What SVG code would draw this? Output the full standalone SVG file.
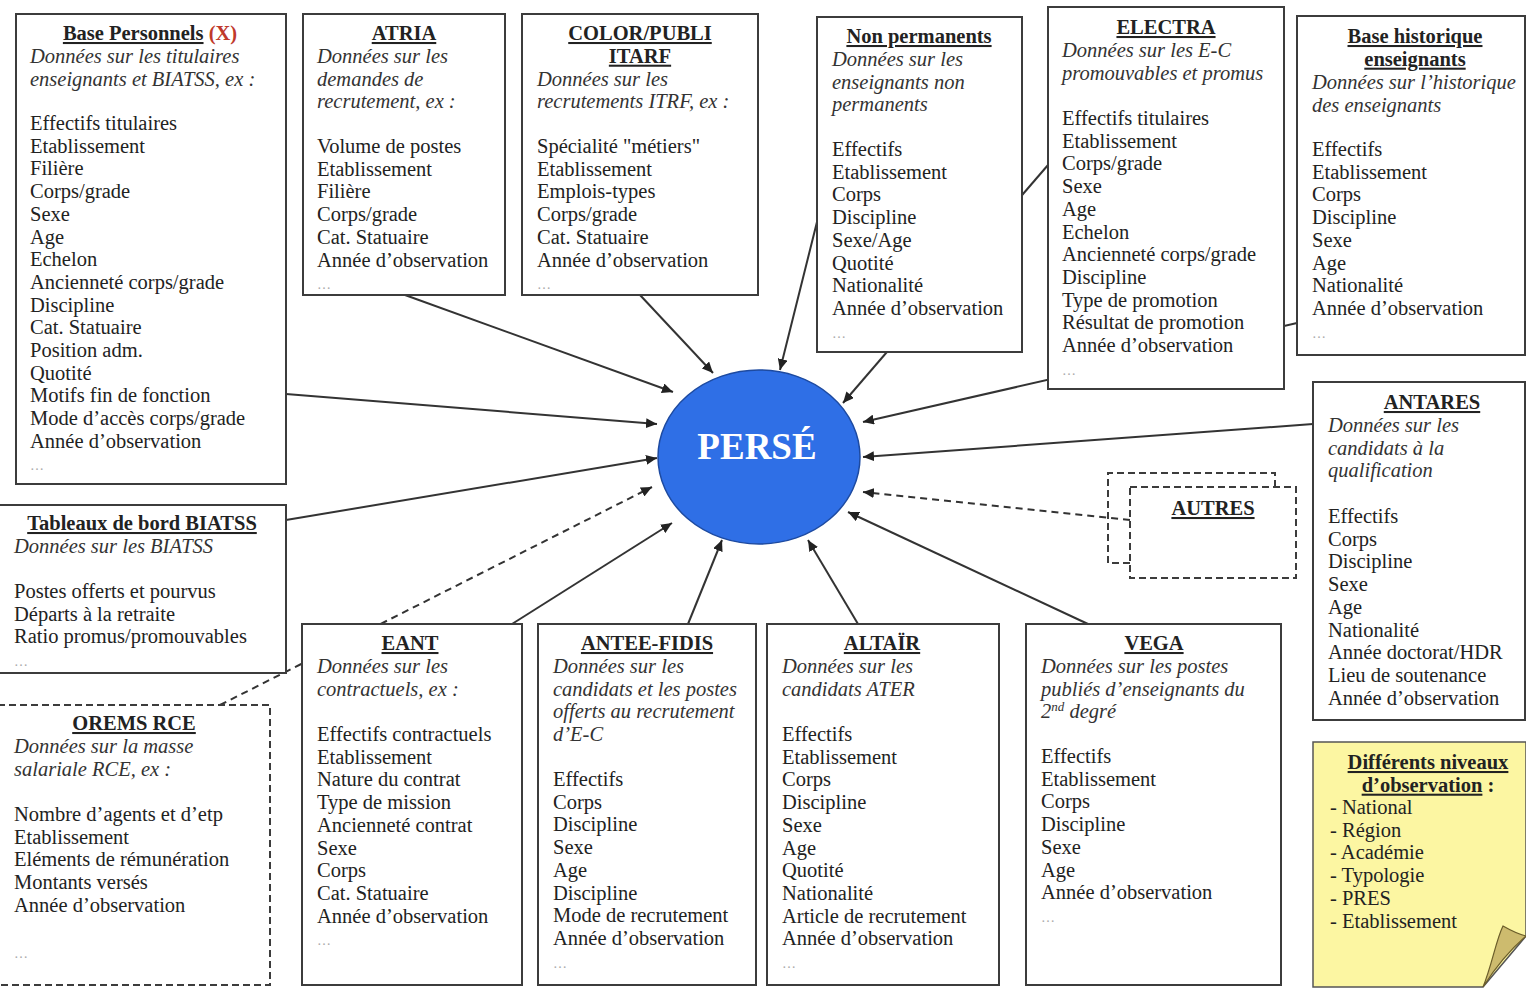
<svg xmlns="http://www.w3.org/2000/svg" width="1526" height="988" viewBox="0 0 1526 988">
<defs>
<style>
.box{fill:#fff;stroke:#3c3c3c;stroke-width:2}
.dbox{fill:#fff;stroke:#3c3c3c;stroke-width:2;stroke-dasharray:7 4}
.dline{fill:none;stroke:#3c3c3c;stroke-width:2;stroke-dasharray:7 4}
.t{font-family:"Liberation Serif","Times New Roman",serif;font-size:20.5px;fill:#222}
.h{font-weight:bold;text-anchor:middle;text-decoration:underline}
.d{font-style:italic;fill:#333}
.dots{font-family:"Liberation Serif",serif;font-size:14px;fill:#aaa}
.conn{stroke:#333;stroke-width:2;fill:none;marker-end:url(#arr)}
.dash{stroke-dasharray:7 5}
</style>
<marker id="arr" markerUnits="userSpaceOnUse" markerWidth="12" markerHeight="10" refX="11" refY="5" orient="auto">
<path d="M0,0 L11,5 L0,10 z" fill="#222"/>
</marker>
</defs>
<rect width="1526" height="988" fill="#fff"/>

<g id="perse">
<ellipse cx="759" cy="457" rx="101" ry="87" fill="#2F6FE6" stroke="#1d4aa0" stroke-width="1.5"/>
<text x="757" y="459" font-family="Liberation Serif, serif" font-size="37" font-weight="bold" fill="#fff" text-anchor="middle">PERSÉ</text>
</g>

<g id="connectors">
<line class="conn" x1="286" y1="394" x2="657" y2="424"/>
<line class="conn" x1="405" y1="295" x2="673" y2="392"/>
<line class="conn" x1="640" y1="295" x2="713" y2="373"/>
<line class="conn" x1="817" y1="222" x2="780" y2="370"/>
<line class="conn" x1="1048" y1="165" x2="843" y2="403"/>
<line class="conn" x1="1297" y1="323" x2="863" y2="422"/>
<line class="conn" x1="1313" y1="424" x2="863" y2="457"/>
<line class="conn dash" x1="1130" y1="520" x2="863" y2="492"/>
<line class="conn" x1="1088" y1="624" x2="848" y2="512"/>
<line class="conn" x1="858" y1="624" x2="808" y2="540"/>
<line class="conn" x1="688" y1="624" x2="722" y2="540"/>
<line class="conn" x1="512" y1="624" x2="672" y2="523"/>
<line class="conn dash" x1="220" y1="705" x2="652" y2="487"/>
<line class="conn" x1="286" y1="520" x2="657" y2="458"/>
</g>

<g id="base-personnels">
<rect class="box" x="16" y="14" width="270" height="470"/>
<text class="t" x="150" y="40" font-weight="bold" text-anchor="middle"><tspan text-decoration="underline">Base Personnels</tspan> <tspan fill="#c0392b">(X)</tspan></text>
<text class="t d" x="30" y="63"><tspan x="30">Données sur les titulaires</tspan><tspan x="30" dy="22.7">enseignants et BIATSS, ex :</tspan></text>
<text class="t" x="30" y="130"><tspan x="30">Effectifs titulaires</tspan><tspan x="30" dy="22.7">Etablissement</tspan><tspan x="30" dy="22.7">Filière</tspan><tspan x="30" dy="22.7">Corps/grade</tspan><tspan x="30" dy="22.7">Sexe</tspan><tspan x="30" dy="22.7">Age</tspan><tspan x="30" dy="22.7">Echelon</tspan><tspan x="30" dy="22.7">Ancienneté corps/grade</tspan><tspan x="30" dy="22.7">Discipline</tspan><tspan x="30" dy="22.7">Cat. Statuaire</tspan><tspan x="30" dy="22.7">Position adm.</tspan><tspan x="30" dy="22.7">Quotité</tspan><tspan x="30" dy="22.7">Motifs fin de fonction</tspan><tspan x="30" dy="22.7">Mode d’accès corps/grade</tspan><tspan x="30" dy="22.7">Année d’observation</tspan></text>
<text class="dots" x="30" y="470">…</text>
</g>

<g id="atria">
<rect class="box" x="303" y="14" width="202" height="281"/>
<text class="t h" x="404" y="40">ATRIA</text>
<text class="t d" x="317" y="63"><tspan x="317">Données sur les</tspan><tspan x="317" dy="22.7">demandes de</tspan><tspan x="317" dy="22.7">recrutement, ex :</tspan></text>
<text class="t" x="317" y="153"><tspan x="317">Volume de postes</tspan><tspan x="317" dy="22.7">Etablissement</tspan><tspan x="317" dy="22.7">Filière</tspan><tspan x="317" dy="22.7">Corps/grade</tspan><tspan x="317" dy="22.7">Cat. Statuaire</tspan><tspan x="317" dy="22.7">Année d’observation</tspan></text>
<text class="dots" x="317" y="289">…</text>
</g>

<g id="color-publi">
<rect class="box" x="522" y="14" width="236" height="281"/>
<text class="t h" x="640" y="40"><tspan x="640">COLOR/PUBLI</tspan><tspan x="640" dy="22.7">ITARF</tspan></text>
<text class="t d" x="537" y="85.5"><tspan x="537">Données sur les</tspan><tspan x="537" dy="22.7">recrutements ITRF, ex :</tspan></text>
<text class="t" x="537" y="153"><tspan x="537">Spécialité "métiers"</tspan><tspan x="537" dy="22.7">Etablissement</tspan><tspan x="537" dy="22.7">Emplois-types</tspan><tspan x="537" dy="22.7">Corps/grade</tspan><tspan x="537" dy="22.7">Cat. Statuaire</tspan><tspan x="537" dy="22.7">Année d’observation</tspan></text>
<text class="dots" x="537" y="289">…</text>
</g>

<g id="non-permanents">
<rect class="box" x="817" y="17" width="205" height="335"/>
<text class="t h" x="919" y="43">Non permanents</text>
<text class="t d" x="832" y="66"><tspan x="832">Données sur les</tspan><tspan x="832" dy="22.7">enseignants non</tspan><tspan x="832" dy="22.7">permanents</tspan></text>
<text class="t" x="832" y="156"><tspan x="832">Effectifs</tspan><tspan x="832" dy="22.7">Etablissement</tspan><tspan x="832" dy="22.7">Corps</tspan><tspan x="832" dy="22.7">Discipline</tspan><tspan x="832" dy="22.7">Sexe/Age</tspan><tspan x="832" dy="22.7">Quotité</tspan><tspan x="832" dy="22.7">Nationalité</tspan><tspan x="832" dy="22.7">Année d’observation</tspan></text>
<text class="dots" x="832" y="338">…</text>
</g>

<g id="electra">
<rect class="box" x="1048" y="7" width="236" height="382"/>
<text class="t h" x="1166" y="34">ELECTRA</text>
<text class="t d" x="1062" y="57"><tspan x="1062">Données sur les E-C</tspan><tspan x="1062" dy="22.7">promouvables et promus</tspan></text>
<text class="t" x="1062" y="125"><tspan x="1062">Effectifs titulaires</tspan><tspan x="1062" dy="22.7">Etablissement</tspan><tspan x="1062" dy="22.7">Corps/grade</tspan><tspan x="1062" dy="22.7">Sexe</tspan><tspan x="1062" dy="22.7">Age</tspan><tspan x="1062" dy="22.7">Echelon</tspan><tspan x="1062" dy="22.7">Ancienneté corps/grade</tspan><tspan x="1062" dy="22.7">Discipline</tspan><tspan x="1062" dy="22.7">Type de promotion</tspan><tspan x="1062" dy="22.7">Résultat de promotion</tspan><tspan x="1062" dy="22.7">Année d’observation</tspan></text>
<text class="dots" x="1062" y="375">…</text>
</g>

<g id="base-historique">
<rect class="box" x="1297" y="16" width="228" height="339"/>
<text class="t h" x="1415" y="43"><tspan x="1415">Base historique</tspan><tspan x="1415" dy="22.7">enseignants</tspan></text>
<text class="t d" x="1312" y="89"><tspan x="1312">Données sur l’historique</tspan><tspan x="1312" dy="22.7">des enseignants</tspan></text>
<text class="t" x="1312" y="156"><tspan x="1312">Effectifs</tspan><tspan x="1312" dy="22.7">Etablissement</tspan><tspan x="1312" dy="22.7">Corps</tspan><tspan x="1312" dy="22.7">Discipline</tspan><tspan x="1312" dy="22.7">Sexe</tspan><tspan x="1312" dy="22.7">Age</tspan><tspan x="1312" dy="22.7">Nationalité</tspan><tspan x="1312" dy="22.7">Année d’observation</tspan></text>
<text class="dots" x="1312" y="338">…</text>
</g>

<g id="antares">
<rect class="box" x="1313" y="382" width="212" height="338"/>
<text class="t h" x="1432" y="409">ANTARES</text>
<text class="t d" x="1328" y="432"><tspan x="1328">Données sur les</tspan><tspan x="1328" dy="22.7">candidats à la</tspan><tspan x="1328" dy="22.7">qualification</tspan></text>
<text class="t" x="1328" y="523"><tspan x="1328">Effectifs</tspan><tspan x="1328" dy="22.7">Corps</tspan><tspan x="1328" dy="22.7">Discipline</tspan><tspan x="1328" dy="22.7">Sexe</tspan><tspan x="1328" dy="22.7">Age</tspan><tspan x="1328" dy="22.7">Nationalité</tspan><tspan x="1328" dy="22.7">Année doctorat/HDR</tspan><tspan x="1328" dy="22.7">Lieu de soutenance</tspan><tspan x="1328" dy="22.7">Année d’observation</tspan></text>
</g>

<g id="niveaux">
<path d="M1313,742 L1526,742 L1526,936 L1483,987 L1313,987 Z" fill="#FCF6A2" stroke="#555" stroke-width="1.5"/>
<path d="M1483,987 C1492,965 1496,940 1503,926 C1510,930 1518,934 1526,936 C1510,950 1495,968 1483,987 Z" fill="#CDBB6E" stroke="#6b5d2a" stroke-width="1.2"/>
<text class="t" x="1428" y="769" font-weight="bold" text-anchor="middle"><tspan x="1428" text-decoration="underline">Différents niveaux</tspan><tspan x="1428" dy="22.7"><tspan text-decoration="underline">d’observation</tspan> :</tspan></text>
<text class="t" x="1330" y="814"><tspan x="1330">- National</tspan><tspan x="1330" dy="22.7">- Région</tspan><tspan x="1330" dy="22.7">- Académie</tspan><tspan x="1330" dy="22.7">- Typologie</tspan><tspan x="1330" dy="22.7">- PRES</tspan><tspan x="1330" dy="22.7">- Etablissement</tspan></text>
</g>

<g id="autres">
<path class="dline" d="M1130,563 L1108,563 L1108,473 L1275,473 L1275,487"/>
<rect class="dbox" x="1130" y="487" width="166" height="91"/>
<text class="t h" x="1213" y="515">AUTRES</text>
</g>

<g id="tableaux-biatss">
<rect class="box" x="-2" y="505" width="288" height="168"/>
<text class="t h" x="142" y="530">Tableaux de bord BIATSS</text>
<text class="t d" x="14" y="553">Données sur les BIATSS</text>
<text class="t" x="14" y="598"><tspan x="14">Postes offerts et pourvus</tspan><tspan x="14" dy="22.7">Départs à la retraite</tspan><tspan x="14" dy="22.7">Ratio promus/promouvables</tspan></text>
<text class="dots" x="14" y="666">…</text>
</g>

<g id="orems-rce">
<rect class="dbox" x="-2" y="705" width="272" height="280"/>
<text class="t h" x="134" y="730">OREMS RCE</text>
<text class="t d" x="14" y="753"><tspan x="14">Données sur la masse</tspan><tspan x="14" dy="22.7">salariale RCE, ex :</tspan></text>
<text class="t" x="14" y="821"><tspan x="14">Nombre d’agents et d’etp</tspan><tspan x="14" dy="22.7">Etablissement</tspan><tspan x="14" dy="22.7">Eléments de rémunération</tspan><tspan x="14" dy="22.7">Montants versés</tspan><tspan x="14" dy="22.7">Année d’observation</tspan></text>
<text class="dots" x="14" y="958">…</text>
</g>

<g id="eant">
<rect class="box" x="302" y="624" width="220" height="361"/>
<text class="t h" x="410" y="650">EANT</text>
<text class="t d" x="317" y="673"><tspan x="317">Données sur les</tspan><tspan x="317" dy="22.7">contractuels, ex :</tspan></text>
<text class="t" x="317" y="741"><tspan x="317">Effectifs contractuels</tspan><tspan x="317" dy="22.7">Etablissement</tspan><tspan x="317" dy="22.7">Nature du contrat</tspan><tspan x="317" dy="22.7">Type de mission</tspan><tspan x="317" dy="22.7">Ancienneté contrat</tspan><tspan x="317" dy="22.7">Sexe</tspan><tspan x="317" dy="22.7">Corps</tspan><tspan x="317" dy="22.7">Cat. Statuaire</tspan><tspan x="317" dy="22.7">Année d’observation</tspan></text>
<text class="dots" x="317" y="945">…</text>
</g>

<g id="antee-fidis">
<rect class="box" x="538" y="624" width="218" height="361"/>
<text class="t h" x="647" y="650">ANTEE-FIDIS</text>
<text class="t d" x="553" y="673"><tspan x="553">Données sur les</tspan><tspan x="553" dy="22.7">candidats et les postes</tspan><tspan x="553" dy="22.7">offerts au recrutement</tspan><tspan x="553" dy="22.7">d’E-C</tspan></text>
<text class="t" x="553" y="786"><tspan x="553">Effectifs</tspan><tspan x="553" dy="22.7">Corps</tspan><tspan x="553" dy="22.7">Discipline</tspan><tspan x="553" dy="22.7">Sexe</tspan><tspan x="553" dy="22.7">Age</tspan><tspan x="553" dy="22.7">Discipline</tspan><tspan x="553" dy="22.7">Mode de recrutement</tspan><tspan x="553" dy="22.7">Année d’observation</tspan></text>
<text class="dots" x="553" y="968">…</text>
</g>

<g id="altair">
<rect class="box" x="767" y="624" width="232" height="361"/>
<text class="t h" x="882" y="650">ALTAÏR</text>
<text class="t d" x="782" y="673"><tspan x="782">Données sur les</tspan><tspan x="782" dy="22.7">candidats ATER</tspan></text>
<text class="t" x="782" y="741"><tspan x="782">Effectifs</tspan><tspan x="782" dy="22.7">Etablissement</tspan><tspan x="782" dy="22.7">Corps</tspan><tspan x="782" dy="22.7">Discipline</tspan><tspan x="782" dy="22.7">Sexe</tspan><tspan x="782" dy="22.7">Age</tspan><tspan x="782" dy="22.7">Quotité</tspan><tspan x="782" dy="22.7">Nationalité</tspan><tspan x="782" dy="22.7">Article de recrutement</tspan><tspan x="782" dy="22.7">Année d’observation</tspan></text>
<text class="dots" x="782" y="968">…</text>
</g>

<g id="vega">
<rect class="box" x="1026" y="624" width="255" height="361"/>
<text class="t h" x="1154" y="650">VEGA</text>
<text class="t d" x="1041" y="673"><tspan x="1041">Données sur les postes</tspan><tspan x="1041" dy="22.7">publiés d’enseignants du</tspan><tspan x="1041" dy="22.7">2</tspan><tspan dy="-7" font-size="13">nd</tspan><tspan dy="7"> degré</tspan></text>
<text class="t" x="1041" y="763"><tspan x="1041">Effectifs</tspan><tspan x="1041" dy="22.7">Etablissement</tspan><tspan x="1041" dy="22.7">Corps</tspan><tspan x="1041" dy="22.7">Discipline</tspan><tspan x="1041" dy="22.7">Sexe</tspan><tspan x="1041" dy="22.7">Age</tspan><tspan x="1041" dy="22.7">Année d’observation</tspan></text>
<text class="dots" x="1041" y="922">…</text>
</g>
</svg>
